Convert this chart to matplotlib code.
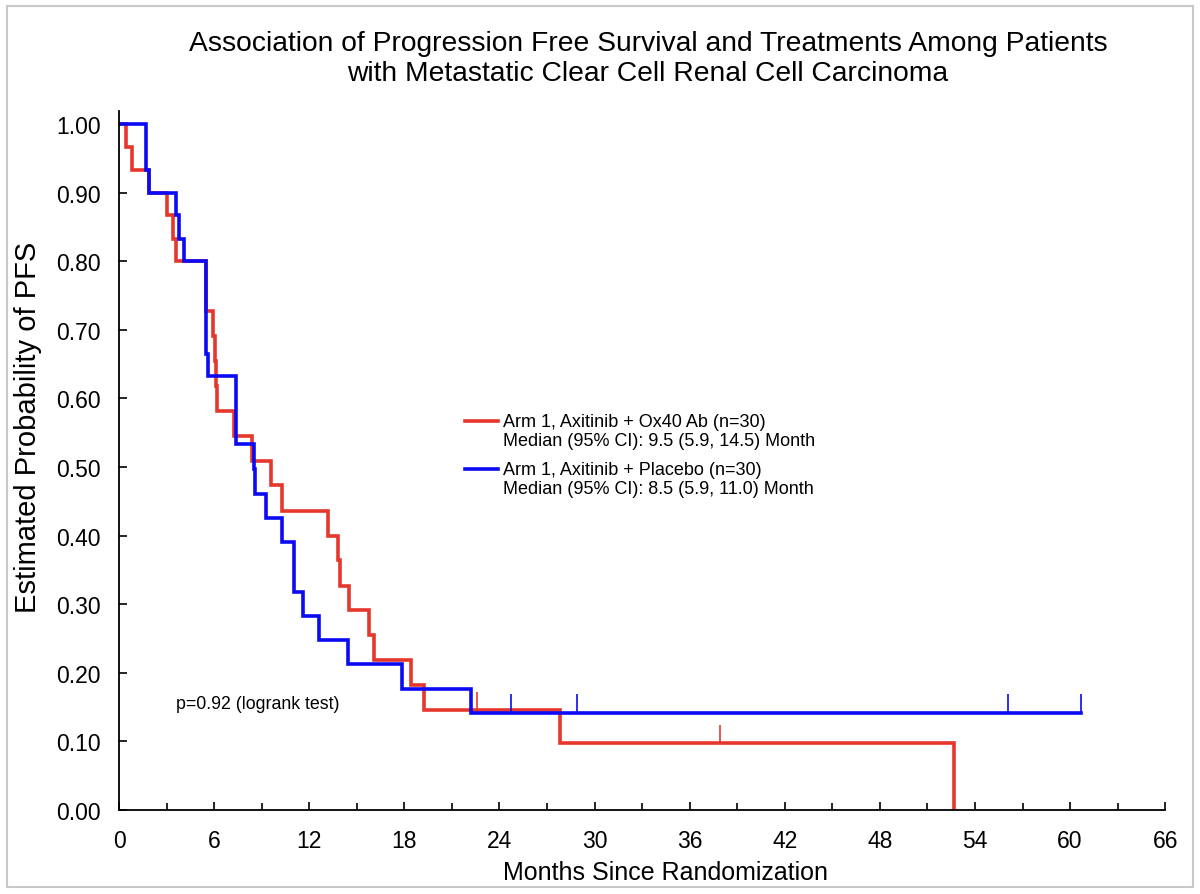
import matplotlib
matplotlib.use("Agg")
import matplotlib.pyplot as plt
from matplotlib.patches import Rectangle

plt.rcParams['font.family'] = ['Liberation Sans', 'DejaVu Sans']

# ---- data ----
red_times = [0, 0.44, 0.82, 1.9, 3.0, 3.4, 3.6, 5.5, 5.95, 6.05, 6.1, 6.2, 7.26, 8.37,
             9.57, 10.26, 13.2, 13.84, 13.95, 14.5, 15.8, 16.1, 18.4, 19.24, 27.8, 52.7]
red_surv = [1.0, 0.967, 0.933, 0.9, 0.867, 0.833, 0.8, 0.727, 0.691, 0.655, 0.618, 0.582,
            0.545, 0.509, 0.473, 0.436, 0.400, 0.364, 0.327, 0.291, 0.255, 0.218, 0.182,
            0.145, 0.097, 0.0]
red_cens_t = [22.57, 37.9]
red_cens_s = [0.145, 0.097]

blue_times = [0, 1.7, 1.9, 3.6, 3.8, 4.1, 5.5, 5.6, 7.36, 8.5, 8.6, 9.27, 10.3, 11.04,
              11.63, 12.64, 14.47, 17.84, 22.2, 60.7]
blue_surv = [1.0, 0.933, 0.9, 0.867, 0.833, 0.8, 0.665, 0.633, 0.533, 0.497, 0.46, 0.426,
             0.39, 0.318, 0.283, 0.248, 0.213, 0.177, 0.142, 0.142]
blue_cens_t = [24.7, 28.9, 56.1, 60.7]
blue_cens_s = [0.142, 0.142, 0.142, 0.142]

xticks = list(range(0, 67, 6))
yticks = [0.0, 0.1, 0.2, 0.3, 0.4, 0.5, 0.6, 0.7, 0.8, 0.9, 1.0]

red_label = ["Arm 1, Axitinib + Ox40 Ab (n=30)", "Median (95% CI): 9.5 (5.9, 14.5) Month"]
blue_label = ["Arm 1, Axitinib + Placebo (n=30)", "Median (95% CI): 8.5 (5.9, 11.0) Month"]

RED = '#e5372c'
BLUE = '#0a0af5'

fig = plt.figure(figsize=(12, 8.95), dpi=100)
fig.patches.append(Rectangle((0.006, 0.008), 0.988, 0.984, transform=fig.transFigure,
                             fill=False, edgecolor='#c8c8c8', linewidth=1.5))
ax = fig.add_axes([0.0992, 0.0939, 0.8718, 0.781])

ax.step(red_times, red_surv, where='post', color=RED, lw=2.6, solid_joinstyle='miter')
ax.step(blue_times, blue_surv, where='post', color=BLUE, lw=2.6, solid_joinstyle='miter')
ax.vlines(red_cens_t, red_cens_s, [v + 0.027 for v in red_cens_s], color=RED, lw=1.2)
ax.vlines(blue_cens_t, blue_cens_s, [v + 0.027 for v in blue_cens_s], color=BLUE, lw=1.2)

ax.set_xlim(0, 66)
ax.set_ylim(0, 1.019)
ax.set_xticks(xticks)
ax.set_xticks(list(range(3, 66, 6)), minor=True)
ax.set_yticks(yticks)
ax.set_yticklabels([f"{v:.2f}" for v in yticks])
ax.tick_params(axis='both', which='both', direction='in', length=6, width=1.2,
               labelsize=16.5)
ax.tick_params(axis='x', which='major', pad=14)
ax.tick_params(axis='y', which='major', pad=13)
ax.tick_params(axis='x', which='minor', length=5)
for s in ['top', 'right']:
    ax.spines[s].set_visible(False)
for s in ['left', 'bottom']:
    ax.spines[s].set_linewidth(1.3)

ax.set_xlabel("Months Since Randomization", fontsize=18)
ax.xaxis.set_label_coords(0.522, -0.072)
ax.set_ylabel("Estimated Probability of PFS", fontsize=21)
ax.yaxis.set_label_coords(-0.0736, 0.549)
fig.text(0.54, 0.965, "Association of Progression Free Survival and Treatments Among Patients\n"
         "with Metastatic Clear Cell Renal Cell Carcinoma", ha='center', va='top',
         fontsize=20.3, linespacing=1.2)

# legend (manual)
ax.plot([21.8, 23.9], [0.567, 0.567], color=RED, lw=2.6)
ax.text(24.2, 0.567, red_label[0], fontsize=13, va='center')
ax.text(24.2, 0.539, red_label[1], fontsize=13, va='center')
ax.plot([21.8, 23.9], [0.497, 0.497], color=BLUE, lw=2.6)
ax.text(24.2, 0.497, blue_label[0], fontsize=13, va='center')
ax.text(24.2, 0.469, blue_label[1], fontsize=13, va='center')

ax.text(3.6, 0.155, "p=0.92 (logrank test)", fontsize=12.8, va='center')

fig.savefig("out.png", dpi=100)
